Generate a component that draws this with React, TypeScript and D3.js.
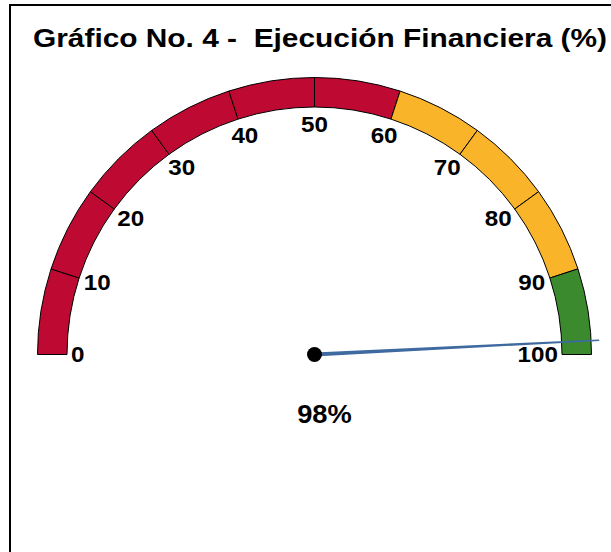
// Externals
import * as d3 from 'd3'
import React, { useRef, useEffect } from 'react'

const titleText = 'Gráfico No. 4 -  Ejecución Financiera (%)'
const tickValues = [0, 10, 20, 30, 40, 50, 60, 70, 80, 90, 100]
const bandLimits = [60, 90, 100]
const bandColors = ['#BE0A32', '#F9B429', '#3C8A2E']
const needleValue = 98.4

const W = 611
const H = 552

const Gauge = () => {
  const ref = useRef<SVGSVGElement | null>(null)

  useEffect(() => {
    const svg = d3.select(ref.current)
    svg.selectAll('*').remove()

    const cx = 314.5
    const cy = 354.5
    const rOuter = 277
    const rInner = 247.5
    const fs = 22
    const stretch = 1.1 // labels look a bit wider than plain Arial

    const angle = d3.scaleLinear().domain([0, 100]).range([-Math.PI / 2, Math.PI / 2])
    const px = (v: number, r: number) => cx + r * Math.sin(angle(v))
    const py = (v: number, r: number) => cy - r * Math.cos(angle(v))

    // Frame
    svg.append('rect')
      .attr('x', 10).attr('y', 5)
      .attr('width', W + 20).attr('height', H + 20)
      .attr('fill', '#fff')
      .attr('stroke', '#000')
      .attr('stroke-width', 2)

    // Title
    svg.append('text')
      .attr('x', 33)
      .attr('y', 47)
      .attr('textLength', 574)
      .attr('lengthAdjust', 'spacingAndGlyphs')
      .style('font-family', 'Liberation Sans, Arial, sans-serif')
      .style('font-weight', 'bold')
      .style('font-size', '25px')
      .style('white-space', 'pre')
      .attr('fill', '#000')
      .text(titleText)

    // Segments
    const segs = d3.pairs(tickValues)
    const colorOf = (v: number) => bandColors[bandLimits.findIndex(l => v < l)]
    const arc: any = d3.arc()
      .innerRadius(rInner)
      .outerRadius(rOuter)
      .startAngle((d: any) => angle(d[0]))
      .endAngle((d: any) => angle(d[1]))

    svg.append('g')
      .attr('transform', `translate(${cx},${cy})`)
      .selectAll('path')
      .data(segs)
      .enter().append('path')
      .attr('d', arc)
      .attr('fill', d => colorOf(d[0]))
      .attr('stroke', '#000')
      .attr('stroke-width', 1)

    // Tick labels
    tickValues.forEach(v => {
      const theta = Math.PI / 2 - angle(v)
      const gap = 4 + 5 * Math.sin(theta)
      const r = rInner - gap
      const ax = (1 + Math.cos(theta)) / 2
      const ay = (1 - Math.sin(theta)) / 2
      const t = svg.append('text')
        .style('font-family', 'Liberation Sans, Arial, sans-serif')
        .style('font-weight', 'bold')
        .style('font-size', fs + 'px')
        .attr('fill', '#000')
        .text(v)
      const bb = (t.node() as SVGTextElement).getBBox()
      const w = bb.width * stretch
      const h = fs * 0.716
      const left = px(v, r) - w * ax
      const top = py(v, r) - h * ay
      t.attr('transform', `translate(${left},${top + h}) scale(${stretch},1)`)
    })

    // Needle
    const tipR = 285
    const a = angle(needleValue)
    const nx = Math.cos(a)
    const ny = Math.sin(a)
    const tipX = px(needleValue, tipR)
    const tipY = py(needleValue, tipR)
    const poly = [
      [cx - nx * 2, cy - ny * 2],
      [tipX - nx * 0.8, tipY - ny * 0.8],
      [tipX + nx * 0.8, tipY + ny * 0.8],
      [cx + nx * 2, cy + ny * 2],
    ] as [number, number][]
    svg.append('path')
      .attr('d', d3.line()(poly) + 'Z')
      .attr('fill', '#3E6AA0')

    svg.append('circle')
      .attr('cx', cx).attr('cy', cy).attr('r', 7.5)
      .attr('fill', '#000')

    // Value
    svg.append('text')
      .attr('transform', `translate(${cx + 10},423) scale(1.05,1)`)
      .attr('text-anchor', 'middle')
      .style('font-family', 'Liberation Sans, Arial, sans-serif')
      .style('font-weight', 'bold')
      .style('font-size', '26px')
      .attr('fill', '#000')
      .text(Math.round(needleValue) + '%')
  }, [])

  return <svg ref={ref} width={W} height={H} style={{ display: 'block' }} />
}

const App = () => (
  <div style={{ position: 'absolute', left: 0, top: 0 }}>
    <Gauge />
  </div>
)

export default App
